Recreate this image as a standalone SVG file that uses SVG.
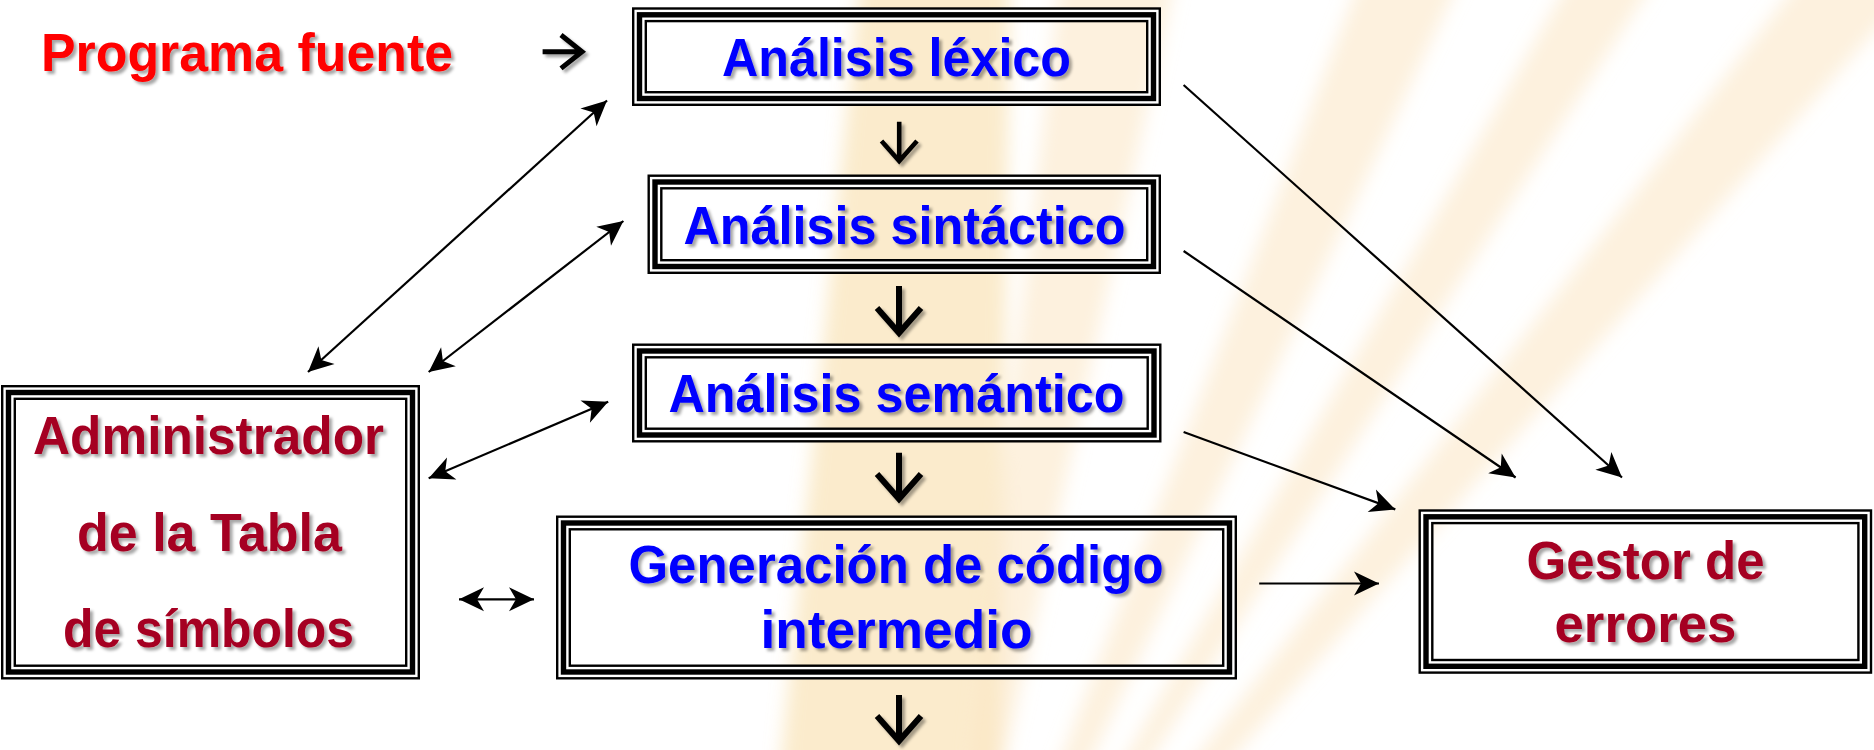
<svg xmlns="http://www.w3.org/2000/svg" width="1874" height="750" viewBox="0 0 1874 750">
<defs>
<style>
.band{fill:none;stroke:#000;stroke-width:15}
.gap{fill:none;stroke:#fff;stroke-width:2.4}
.t{font-family:"Liberation Sans",Arial,sans-serif;font-weight:bold;font-size:54px}
.blue{fill:#0000ff}
.wine{fill:#a50021}
.red{fill:#ff0000}
.conn{fill:none;stroke:#000;stroke-width:2.2}
.chev{fill:none;stroke:#000;stroke-linejoin:miter;stroke-linecap:butt;stroke-miterlimit:10}
.ray{fill:#fbe5c2;opacity:0.55}
</style>
<filter id="sh" x="-10%" y="-30%" width="125%" height="170%">
<feDropShadow dx="3" dy="3" stdDeviation="1.6" flood-color="#000" flood-opacity="0.35"/>
</filter>
<filter id="blur" x="-20%" y="-20%" width="140%" height="140%">
<feGaussianBlur stdDeviation="9"/>
</filter>
<marker id="ah" markerUnits="userSpaceOnUse" viewBox="-26 -14 28 28" markerWidth="28" markerHeight="28" refX="0" refY="0" orient="auto-start-reverse">
<path d="M0,0 L-25,-12 L-18,0 L-25,12 Z" fill="#000"/>
</marker>
</defs>

<g id="background">
<rect x="0" y="0" width="1874" height="750" fill="#fff"/>
<g filter="url(#blur)">
<polygon points="860,-20 1010,-20 1000,770 780,770" fill="#f6d38e" opacity="0.45"/>
<polygon class="ray" points="930,1100 1060,-20 1175,-20"/>
<polygon class="ray" points="930,1100 1360,-20 1460,-20"/>
<polygon class="ray" points="930,1100 1570,-20 1655,-20"/>
<polygon class="ray" points="930,1100 1800,-20 1920,-20"/>
</g>
</g>

<g id="programa-fuente">
<text class="t red" x="41" y="70.7" font-size="53" textLength="412" lengthAdjust="spacingAndGlyphs" filter="url(#sh)">Programa fuente</text>
</g>

<g id="lexico">
<rect class="band" x="639.5" y="14.8" width="514" height="83.7"/>
<rect class="gap" x="635.6" y="10.9" width="521.8" height="91.5"/>
<rect class="gap" x="643.4" y="18.7" width="506.2" height="75.9"/>
<text class="t blue" x="722" y="76" textLength="349" lengthAdjust="spacingAndGlyphs" filter="url(#sh)">Análisis léxico</text>
</g>

<g id="sintactico">
<rect class="band" x="655" y="182" width="498.5" height="84.5"/>
<rect class="gap" x="651.1" y="178.1" width="506.3" height="92.3"/>
<rect class="gap" x="658.9" y="185.9" width="490.7" height="76.7"/>
<text class="t blue" x="683.5" y="244.3" textLength="442" lengthAdjust="spacingAndGlyphs" filter="url(#sh)">Análisis sintáctico</text>
</g>

<g id="semantico">
<rect class="band" x="639.5" y="351" width="514.5" height="84"/>
<rect class="gap" x="635.6" y="347.1" width="522.3" height="91.8"/>
<rect class="gap" x="643.4" y="354.9" width="506.7" height="76.2"/>
<text class="t blue" x="668.5" y="412.3" textLength="456" lengthAdjust="spacingAndGlyphs" filter="url(#sh)">Análisis semántico</text>
</g>

<g id="generacion">
<rect class="band" x="563.5" y="523" width="666" height="149"/>
<rect class="gap" x="559.6" y="519.1" width="673.8" height="156.8"/>
<rect class="gap" x="567.4" y="526.9" width="658.2" height="141.2"/>
<text class="t blue" x="628.5" y="583.3" textLength="535" lengthAdjust="spacingAndGlyphs" filter="url(#sh)">Generación de código</text>
<text class="t blue" x="760.5" y="647.7" textLength="272" lengthAdjust="spacingAndGlyphs" filter="url(#sh)">intermedio</text>
</g>

<g id="tabla-simbolos">
<rect class="band" x="8.5" y="392.5" width="404" height="279.5"/>
<rect class="gap" x="4.6" y="388.6" width="411.8" height="287.3"/>
<rect class="gap" x="12.4" y="396.4" width="396.2" height="271.7"/>
<text class="t wine" x="33" y="454.3" textLength="351" lengthAdjust="spacingAndGlyphs" filter="url(#sh)">Administrador</text>
<text class="t wine" x="77" y="551" textLength="265" lengthAdjust="spacingAndGlyphs" filter="url(#sh)">de la Tabla</text>
<text class="t wine" x="63" y="646.7" textLength="291" lengthAdjust="spacingAndGlyphs" filter="url(#sh)">de símbolos</text>
</g>

<g id="gestor-errores">
<rect class="band" x="1426" y="516.8" width="438.7" height="149.5"/>
<rect class="gap" x="1422.1" y="512.9" width="446.5" height="157.3"/>
<rect class="gap" x="1429.9" y="520.7" width="430.9" height="141.7"/>
<text class="t wine" x="1526.5" y="579" textLength="238" lengthAdjust="spacingAndGlyphs" filter="url(#sh)">Gestor de</text>
<text class="t wine" x="1554.5" y="641.7" textLength="182" lengthAdjust="spacingAndGlyphs" filter="url(#sh)">errores</text>
</g>

<g id="connectors">
<g filter="url(#sh)">
<path class="chev" stroke-width="5" d="M542.6,51.7 H581 M561,35 L582,51.7 L561,68.4"/>
<path class="chev" stroke-width="4.6" d="M899.2,121.7 V160 M881.5,141 L899.2,161 L917,141"/>
<path class="chev" stroke-width="6" d="M899,286 V332 M877,308 L899,333 L921,308"/>
<path class="chev" stroke-width="6" d="M899,452.7 V498 M877,474 L899,499 L921,474"/>
<path class="chev" stroke-width="6" d="M899,695 V740 M877,716 L899,741 L921,716"/>
</g>
<line class="conn" x1="607" y1="100.5" x2="308" y2="372" marker-start="url(#ah)" marker-end="url(#ah)"/>
<line class="conn" x1="623.4" y1="221" x2="428.7" y2="372" marker-start="url(#ah)" marker-end="url(#ah)"/>
<line class="conn" x1="608.2" y1="401.8" x2="428.7" y2="478.3" marker-start="url(#ah)" marker-end="url(#ah)"/>
<line class="conn" stroke-width="3" x1="459" y1="599.3" x2="534" y2="599.3" marker-start="url(#ah)" marker-end="url(#ah)"/>
<line class="conn" x1="1183.6" y1="85" x2="1622" y2="477.5" marker-end="url(#ah)"/>
<line class="conn" x1="1183.6" y1="251" x2="1515.6" y2="477.5" marker-end="url(#ah)"/>
<line class="conn" x1="1183.6" y1="432" x2="1395.3" y2="509.4" marker-end="url(#ah)"/>
<line class="conn" stroke-width="2.6" x1="1259.2" y1="583.5" x2="1379" y2="583.5" marker-end="url(#ah)"/>
</g>
</svg>
